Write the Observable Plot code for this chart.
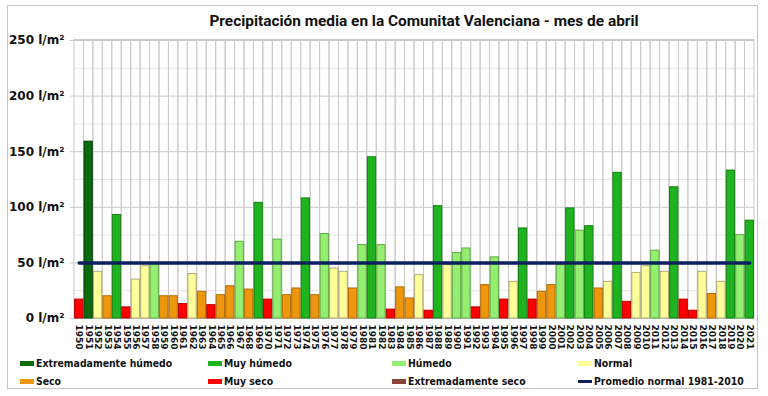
<!DOCTYPE html>
<html><head><meta charset="utf-8">
<script src="https://cdn.jsdelivr.net/npm/d3@7"></script>
<script src="https://cdn.jsdelivr.net/npm/@observablehq/plot@0.6"></script>
<style>
body{margin:0;background:#fff;}
#wrap{position:relative;width:768px;height:396px;background:#fff;overflow:hidden;font-family:"DejaVu Sans",Verdana,sans-serif;}
#border{position:absolute;left:7px;top:5px;width:749px;height:382px;border:1px solid #c4c4c4;}
#title{position:absolute;left:0;width:848px;top:12px;text-align:center;font-family:Roboto,"Liberation Sans",sans-serif;font-weight:700;font-size:15.4px;line-height:18px;color:#111;white-space:nowrap;}
#chart{position:absolute;left:0;top:30px;}
.lg{position:absolute;font-family:"DejaVu Sans Condensed","DejaVu Sans",sans-serif;font-stretch:condensed;font-weight:bold;font-size:10.4px;line-height:12px;color:#111;white-space:nowrap;}
.sw{position:absolute;width:14px;height:5px;}
</style></head>
<body>
<div id="wrap">
<div id="border"></div>
<div id="title">Precipitación media en la Comunitat Valenciana - mes de abril</div>
<div id="chart"></div>
<div id="legend"></div>
</div>
<script>
// ---- data ----
const years = d3.range(1950, 2022);
const values = [17,159,42,20,93,10,35,47,49,20,20,13,40,24,12,21,29,69,26,104,
  17,71,21,27,108,21,76,45,42,27,66,145,66,8,28,18,39,7,101,48,
  59,63,10,30,55,17,33,81,17,24,30,48,99,79,83,27,33,131,15,41,
  47,61,42,118,17,7,42,22,33,133,75,88];
// EH=Extremadamente húmedo, MH=Muy húmedo, H=Húmedo, N=Normal, S=Seco, MS=Muy seco, ES=Extremadamente seco
const categories = ["MS","EH","N","S","MH","MS","N","N","H","S","S","MS","N","S","MS","S","S","H","S","MH",
  "MS","H","S","S","MH","S","H","N","N","S","H","MH","H","MS","S","S","N","MS","MH","N",
  "H","H","MS","S","H","MS","N","MH","MS","S","S","H","MH","H","MH","S","N","MH","MS","N",
  "N","H","N","MH","MS","MS","N","S","N","MH","H","MH"];
const promedio = 50;
const yTicks = [0, 50, 100, 150, 200, 250];
const yMinor = [25, 75, 125, 175, 225];
const yMax = 250;
const legendNames = {EH:"Extremadamente húmedo", MH:"Muy húmedo", H:"Húmedo", N:"Normal",
  S:"Seco", MS:"Muy seco", ES:"Extremadamente seco"};
const fillColor = {EH:"#0b6a0b", MH:"#1fb41f", H:"#94ee70", N:"#ffff99", S:"#ef960f", MS:"#ff0000", ES:"#8b4536"};
const strokeColor = {EH:"#064006", MH:"#128012", H:"#62a84a", N:"#b0a878", S:"#b06c08", MS:"#b80000", ES:"#5a2a20"};
const lineColor = "#0c1f5e";
const lineLabel = "Promedio normal 1981-2010";

const data = years.map((y, i) => ({year: y, value: values[i], cat: categories[i]}));

const chart = Plot.plot({
  width: 768, height: 328,
  marginLeft: 74, marginRight: 14, marginTop: 10, marginBottom: 40,
  style: {fontFamily: "DejaVu Sans, Verdana, sans-serif", fontWeight: "bold", fontSize: "12px", background: "transparent", color: "#111", overflow: "visible"},
  x: {type: "band", domain: years, paddingInner: 0.12, paddingOuter: 0.06, label: null},
  y: {domain: [0, yMax], label: null},
  color: {type: "identity"},
  marks: [
    Plot.ruleY(yMinor, {stroke: "#e6e6e6", strokeWidth: 1}),
    Plot.ruleY(yTicks, {stroke: "#c8c8c8", strokeWidth: 1}),
    Plot.barY(years, {x: d => d, y: () => yMax, fill: "none", stroke: "#cbcbcb", strokeWidth: 1, inset: -0.57}),
    Plot.barY(data, {x: "year", y: "value", fill: d => fillColor[d.cat], stroke: d => strokeColor[d.cat], strokeWidth: 1}),
    Plot.lineY(years, {x: d => d, y: () => promedio, stroke: lineColor, strokeWidth: 3.5}),
    Plot.axisY({ticks: yTicks, tickFormat: d => `${d} l/m²`, tickSize: 4, tickPadding: 6, stroke: "#c8c8c8", fontSize: 12}),
    Plot.axisX({tickRotate: 90, tickSize: 0, tickPadding: 6, fontSize: 9, tickFormat: d => String(d)})
  ]
});
document.getElementById("chart").appendChild(chart);

// ---- legend ----
const legend = document.getElementById("legend");
const legendRows = [["EH","MH","H","N"],["S","MS","ES","LINE"]];
const colX = [20, 208, 392, 578];
const rowY = [357, 375];
legendRows.forEach((row, r) => row.forEach((k, c) => {
  const sw = document.createElement("div");
  sw.className = "sw";
  sw.style.left = colX[c] + "px";
  if (k === "LINE") {
    sw.style.top = (rowY[r] + 5) + "px"; sw.style.height = "3px"; sw.style.background = lineColor;
  } else {
    sw.style.top = (rowY[r] + 4) + "px"; sw.style.background = fillColor[k];
  }
  legend.appendChild(sw);
  const t = document.createElement("div");
  t.className = "lg";
  t.style.left = (colX[c] + 16) + "px";
  t.style.top = rowY[r] + "px";
  t.textContent = k === "LINE" ? lineLabel : legendNames[k];
  legend.appendChild(t);
}));
</script>
</body></html>
